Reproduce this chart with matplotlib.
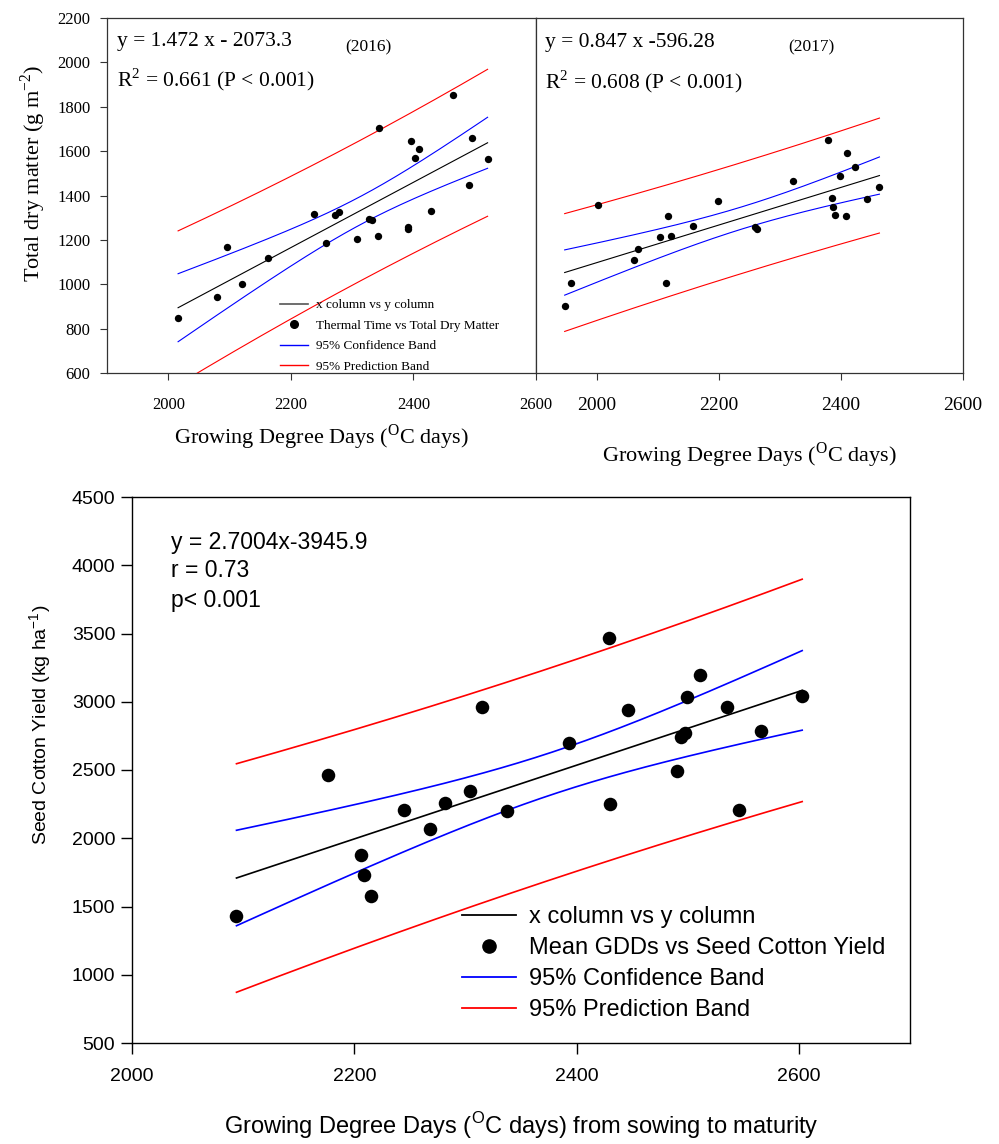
import numpy as np
import matplotlib
matplotlib.use("Agg")
import matplotlib.pyplot as plt
from matplotlib.lines import Line2D

# ---------------- data ----------------
gdd_2016 = [2016, 2080, 2096, 2121, 2163, 2237, 2258, 2272, 2278, 2308, 2328, 2333,
            2342, 2344, 2391, 2391, 2396, 2402, 2409, 2428, 2465, 2490, 2496, 2521]
tdm_2016 = [848, 943, 1168, 1000, 1118, 1318, 1185, 1312, 1326, 1203, 1293, 1290,
            1219, 1705, 1260, 1248, 1645, 1570, 1609, 1329, 1854, 1447, 1659, 1563]
slope_2016, icept_2016 = 1.472, -2073.3

gdd_2017 = [1947, 1957, 2001, 2061, 2068, 2104, 2113, 2117, 2122, 2158, 2198, 2259,
            2262, 2322, 2378, 2386, 2387, 2390, 2399, 2409, 2410, 2423, 2443, 2463]
tdm_2017 = [900, 1005, 1356, 1111, 1161, 1212, 1005, 1308, 1219, 1263, 1377, 1257,
            1248, 1464, 1649, 1388, 1348, 1311, 1489, 1309, 1590, 1530, 1382, 1437]
slope_2017, icept_2017 = 0.847, -596.28

gdd_mean = [2094, 2176, 2206, 2209, 2215, 2245, 2268, 2282, 2304, 2315, 2337, 2393,
            2429, 2430, 2446, 2490, 2494, 2498, 2499, 2511, 2535, 2546, 2566, 2603]
seed_yield = [1433, 2462, 1876, 1729, 1575, 2208, 2067, 2260, 2345, 2961, 2196, 2697,
              3464, 2254, 2936, 2492, 2741, 2771, 3037, 3198, 2958, 2208, 2787, 3039]
slope_y, icept_y = 2.7004, -3945.9

t_crit = 2.074  # Student t, 95 %, df = 22

legend_top = ["x column vs y column", "Thermal Time vs Total Dry Matter",
              "95% Confidence Band", "95% Prediction Band"]
legend_bot = ["x column vs y column", "Mean GDDs vs Seed Cotton Yield",
              "95% Confidence Band", "95% Prediction Band"]


def regression_bands(x, y, slope, icept, t):
    x = np.asarray(x, float)
    y = np.asarray(y, float)
    n = len(x)
    s = np.sqrt(np.sum((y - (slope * x + icept)) ** 2) / (n - 2))
    sxx = np.sum((x - x.mean()) ** 2)
    xs = np.linspace(x.min(), x.max(), 200)
    yh = slope * xs + icept
    c = t * s * np.sqrt(1.0 / n + (xs - x.mean()) ** 2 / sxx)
    p = t * s * np.sqrt(1.0 + 1.0 / n + (xs - x.mean()) ** 2 / sxx)
    return xs, yh, yh - c, yh + c, yh - p, yh + p


W, H = 999, 1144
fig = plt.figure(figsize=(W / 100, H / 100), dpi=100)


def box(l, t, r, b):
    return [l / W, 1 - b / H, (r - l) / W, (b - t) / H]


SERIF = "Liberation Serif"
SANS = "Liberation Sans"

# ---------------- top panels (2016, 2017) ----------------
ax1 = fig.add_axes(box(107, 18, 536, 373))
ax2 = fig.add_axes(box(536, 18, 963, 373))

for ax, gx, gy, sl, ic in [(ax1, gdd_2016, tdm_2016, slope_2016, icept_2016),
                           (ax2, gdd_2017, tdm_2017, slope_2017, icept_2017)]:
    xs, yh, cl, cu, pl, pu = regression_bands(gx, gy, sl, ic, t_crit)
    ax.plot(xs, yh, color="black", lw=0.8, zorder=3)
    ax.plot(xs, cu, color="#0000ff", lw=0.8, zorder=3)
    ax.plot(xs, cl, color="#0000ff", lw=0.8, zorder=3)
    ax.plot(xs, pu, color="#ff0000", lw=0.8, zorder=3)
    ax.plot(xs, pl, color="#ff0000", lw=0.8, zorder=3)
    ax.scatter(gx, gy, s=28, color="black", zorder=4, linewidths=0)
    ax.set_xlim(1900, 2600)
    ax.set_ylim(600, 2200)
    ax.set_xticks([2000, 2200, 2400, 2600])
    for sp in ax.spines.values():
        sp.set_linewidth(0.9)
        sp.set_color("#333333")
    ax.tick_params(direction="out", length=5, width=0.8, color="#333333")

ax1.set_yticks(np.arange(600, 2201, 200))
ax1.tick_params(axis="y", pad=7, labelsize=12)
ax1.tick_params(axis="x", pad=12, labelsize=12)
for lab in ax1.get_xticklabels() + ax1.get_yticklabels():
    lab.set_fontfamily(SERIF)
ax1.set_ylabel(r"Total dry matter (g m$^{\mathdefault{-2}}$)", family=SERIF, fontsize=16)
ax1.yaxis.set_label_coords(-0.138, 0.563)
ax1.set_xlabel(r"Growing Degree Days ($^{\mathdefault{O}}$C days)", family=SERIF, fontsize=16)
ax1.xaxis.set_label_coords(0.5, -0.14)

ax2.set_yticks([])
ax2.tick_params(axis="x", pad=12, labelsize=14)
for lab in ax2.get_xticklabels():
    lab.set_fontfamily(SERIF)
ax2.set_xlabel(r"Growing Degree Days ($^{\mathdefault{O}}$C days)", family=SERIF, fontsize=16)
ax2.xaxis.set_label_coords(0.5, -0.19)

ax1.text(0.023, 0.935, "y = 1.472 x - 2073.3", transform=ax1.transAxes, family=SERIF,
         fontsize=15.5, va="center", ha="left")
ax1.text(0.555, 0.918, "(2016)", transform=ax1.transAxes, family=SERIF,
         fontsize=12.5, va="center", ha="left")
ax1.text(0.023, 0.825, r"R$^{\mathdefault{2}}$ = 0.661 (P < 0.001)", transform=ax1.transAxes,
         family=SERIF, fontsize=15.5, va="center", ha="left")

ax2.text(0.02, 0.932, "y = 0.847 x -596.28", transform=ax2.transAxes, family=SERIF,
         fontsize=15.5, va="center", ha="left")
ax2.text(0.59, 0.918, "(2017)", transform=ax2.transAxes, family=SERIF,
         fontsize=12.5, va="center", ha="left")
ax2.text(0.02, 0.82, r"R$^{\mathdefault{2}}$ = 0.608 (P < 0.001)", transform=ax2.transAxes,
         family=SERIF, fontsize=15.5, va="center", ha="left")

h_top = [Line2D([], [], color="#555555", lw=1.2),
         Line2D([], [], color="black", marker="o", ms=5.5, lw=0),
         Line2D([], [], color="#0000ff", lw=1.0),
         Line2D([], [], color="#ff0000", lw=1.0)]
ax1.legend(h_top, legend_top, loc="upper left", bbox_to_anchor=(280 / W, 1 - 299 / H),
           bbox_transform=fig.transFigure, frameon=False, prop={"family": SERIF, "size": 9.5},
           handlelength=2.1, handletextpad=0.6, labelspacing=0.63, borderpad=0,
           borderaxespad=0)

# ---------------- bottom ----------------
ax3 = fig.add_axes(box(132, 497, 910, 1043))
xs, yh, cl, cu, pl, pu = regression_bands(gdd_mean, seed_yield, slope_y, icept_y, t_crit)
ax3.plot(xs, yh, color="black", lw=1.2, zorder=3)
ax3.plot(xs, cu, color="#0000ff", lw=1.2, zorder=3)
ax3.plot(xs, cl, color="#0000ff", lw=1.2, zorder=3)
ax3.plot(xs, pu, color="#ff0000", lw=1.2, zorder=3)
ax3.plot(xs, pl, color="#ff0000", lw=1.2, zorder=3)
ax3.scatter(gdd_mean, seed_yield, s=95, color="black", zorder=4, linewidths=0)
ax3.set_xlim(2000, 2700)
ax3.set_ylim(500, 4500)
ax3.set_xticks([2000, 2200, 2400, 2600])
ax3.set_yticks(np.arange(500, 4501, 500))
for sp in ax3.spines.values():
    sp.set_linewidth(1.0)
ax3.tick_params(direction="out", length=8, width=1.0)
ax3.tick_params(axis="y", pad=4, labelsize=14)
ax3.tick_params(axis="x", pad=10, labelsize=14)
for lab in ax3.get_xticklabels() + ax3.get_yticklabels():
    lab.set_fontfamily(SANS)
ax3.set_ylabel(r"Seed Cotton Yield (kg ha$^{\mathdefault{-1}}$)", family=SANS, fontsize=14)
ax3.yaxis.set_label_coords(-0.1, 0.582)
ax3.set_xlabel(r"Growing Degree Days ($^{\mathdefault{O}}$C days) from sowing to maturity",
               family=SANS, fontsize=17)
ax3.xaxis.set_label_coords(0.5, -0.122)

ax3.text(0.05, 0.916, "y = 2.7004x-3945.9", transform=ax3.transAxes, family=SANS,
         fontsize=16.5, va="center", ha="left")
ax3.text(0.05, 0.8645, "r = 0.73", transform=ax3.transAxes, family=SANS,
         fontsize=16.5, va="center", ha="left")
ax3.text(0.05, 0.811, "p< 0.001", transform=ax3.transAxes, family=SANS,
         fontsize=16.5, va="center", ha="left")

h_bot = [Line2D([], [], color="black", lw=1.3),
         Line2D([], [], color="black", marker="o", ms=9.5, lw=0),
         Line2D([], [], color="#0000ff", lw=1.3),
         Line2D([], [], color="#ff0000", lw=1.3)]
ax3.legend(h_bot, legend_bot, loc="upper left", bbox_to_anchor=(462 / W, 1 - 906 / H),
           bbox_transform=fig.transFigure, frameon=False, prop={"family": SANS, "size": 17},
           handlelength=2.3, handletextpad=0.55, labelspacing=0.38, borderpad=0,
           borderaxespad=0)

fig.savefig("out.png", dpi=100)
